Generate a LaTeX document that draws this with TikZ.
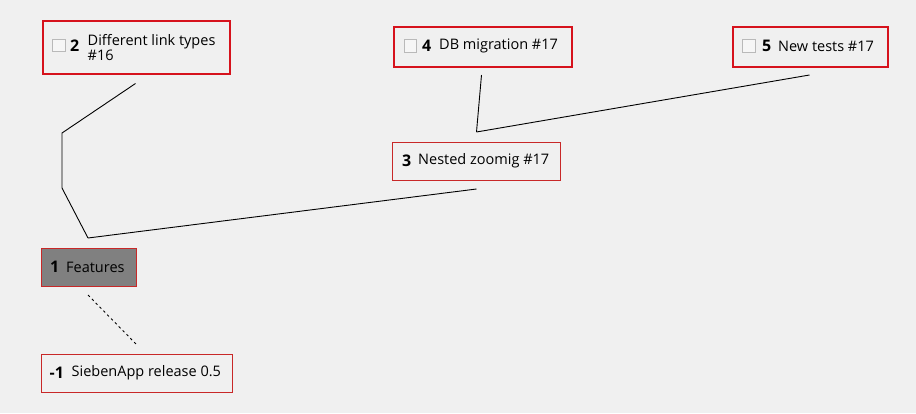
\documentclass[tikz,border=0pt]{standalone}
\usepackage{fontspec}
\setmainfont{Open Sans}
\definecolor{bg}{RGB}{240,240,240}
\definecolor{bred}{RGB}{214,18,28}
\definecolor{tred}{RGB}{200,40,40}
\definecolor{gfill}{RGB}{128,128,128}
\definecolor{cbfill}{RGB}{246,246,246}
\definecolor{cbdraw}{RGB}{185,185,185}
\begin{document}
\begin{tikzpicture}[x=1pt,y=-1pt,
  goalthick/.style={draw=bred, line width=2pt, rectangle, anchor=north west, inner sep=0pt},
  goalthin/.style={draw=tred, line width=1pt, rectangle, anchor=north west, inner sep=0pt},
  cbox/.style={draw=cbdraw, fill=cbfill, line width=0.8pt, minimum size=12.5pt, inner sep=0pt, anchor=west},
  numtxt/.style={font=\fontsize{16}{18}\selectfont\bfseries, anchor=west, inner sep=0pt},
  lbltxt/.style={font=\fontsize{14.5}{15.5}\selectfont, anchor=west, inner sep=0pt, align=left},
  edge/.style={draw=black, line width=0.9pt},
  dashedge/.style={draw=black, line width=0.9pt, dashed, dash pattern=on 2.5pt off 3pt}
]
\fill[bg] (0,0) rectangle (916,413);
\useasboundingbox (0,0) rectangle (916,413);

% node 2
\node[goalthick, minimum width=187pt, minimum height=53pt] (n2) at (41.5,19.5) {};
\node[cbox] (cb2) at (52,45.5) {};
\node[numtxt] (num2) at (70,46) {2};
\node[lbltxt] (t2) at (87.5,47.5) {Different link types\\\#16};

% node 4
\node[goalthick, minimum width=178pt, minimum height=40pt] (n4) at (392.5,26) {};
\node[cbox] (cb4) at (403.5,46) {};
\node[numtxt] (num4) at (422,46) {4};
\node[lbltxt] (t4) at (439,46) {DB migration \#17};

% node 5
\node[goalthick, minimum width=155pt, minimum height=40pt] (n5) at (732,26) {};
\node[cbox] (cb5) at (742,46) {};
\node[numtxt] (num5) at (762,46) {5};
\node[lbltxt] (t5) at (778,46) {New tests \#17};

% node 3
\node[goalthin, minimum width=168pt, minimum height=38pt] (n3) at (392,142) {};
\node[numtxt] (num3) at (402,161) {3};
\node[lbltxt] (t3) at (418,161) {Nested zoomig \#17};

% node 1
\node[goalthin, fill=gfill, minimum width=95pt, minimum height=38pt] (n1) at (40.5,248) {};
\node[numtxt] (num1) at (50,267) {1};
\node[lbltxt] (t1) at (66,267) {Features};

% node -1
\node[goalthin, minimum width=191pt, minimum height=38pt] (nm1) at (40.5,354) {};
\node[numtxt] (numm1) at (49.5,373) {-1};
\node[lbltxt] (tm1) at (71.5,373) {SiebenApp release 0.5};

% connector ends
\coordinate (c1top) at (88,238);
\coordinate (c1bot) at (88,295);
\coordinate (cm1top) at (137,345);
\coordinate (c2bot) at (135.5,83.5);
\coordinate (c3top) at (476.5,132);
\coordinate (c3bot) at (476.5,189);
\coordinate (c4bot) at (481.5,75);
\coordinate (c5bot) at (809.5,75);
\coordinate (b1) at (62,188);
\coordinate (b2) at (62,133);

\draw[edge] (c1top) -- (b1) -- (b2) -- (c2bot);
\draw[edge] (c1top) -- (c3bot);
\draw[edge] (c3top) -- (c4bot);
\draw[edge] (c3top) -- (c5bot);
\draw[dashedge] (c1bot) -- (cm1top);
\end{tikzpicture}
\end{document}
